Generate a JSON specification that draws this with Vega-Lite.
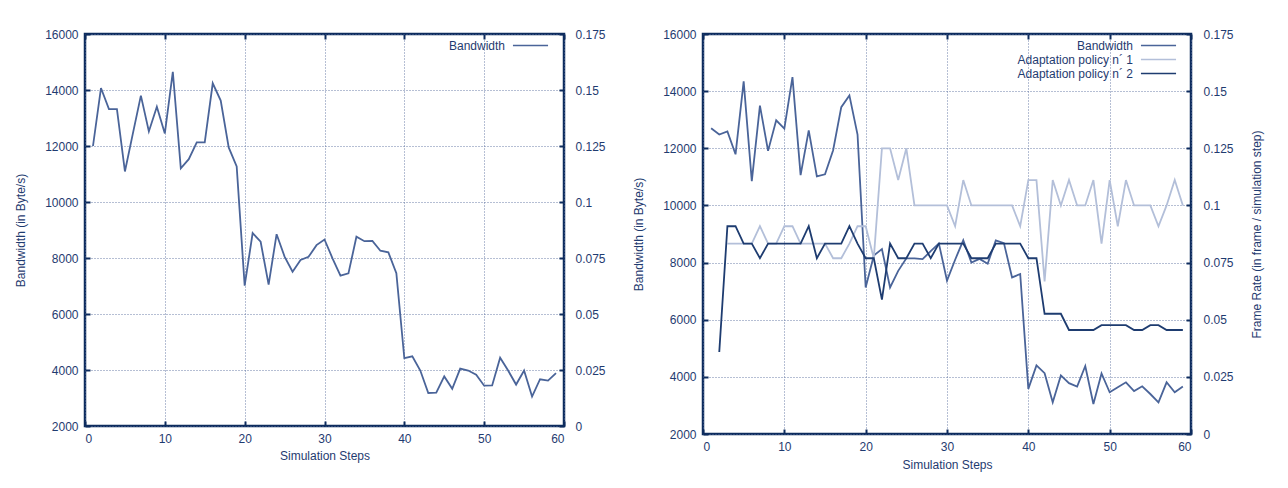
{
  "$schema": "https://vega.github.io/schema/vega-lite/v6.json",
  "background": "white",
  "padding": {"left": 13, "top": 26, "right": 5, "bottom": 5},
  "autosize": {"type": "pad"},
  "spacing": 24,
  "config": {
    "font": "Liberation Sans",
    "view": {"stroke": "#0e2c5e", "strokeWidth": 2.5},
    "axis": {
      "labelFont": "Liberation Sans", "labelFontSize": 12, "labelColor": "#1f3b70",
      "titleFont": "Liberation Sans", "titleFontSize": 12, "titleFontWeight": "normal", "titleColor": "#1f3b70",
      "domain": false, "tickColor": "#0e2c5e", "tickWidth": 2, "tickSize": -5, "labelPadding": 12,
      "gridColor": "#5d71a0", "gridDash": [1, 2], "gridWidth": 1, "gridOpacity": 0.9
    },
    "legend": {
      "labelFont": "Liberation Sans", "labelFontSize": 12, "labelColor": "#1f3b70",
      "symbolType": "M-2.7,0H2.7", "symbolSize": 169, "symbolStrokeWidth": 1.6,
      "labelAlign": "right", "labelOffset": -33, "rowPadding": 0, "padding": 0
    }
  },
  "datasets": {
    "left_bw": [
      {"step": 1, "series": "Bandwidth", "value": 12000},
      {"step": 2, "series": "Bandwidth", "value": 14070},
      {"step": 3, "series": "Bandwidth", "value": 13320},
      {"step": 4, "series": "Bandwidth", "value": 13320},
      {"step": 5, "series": "Bandwidth", "value": 11090},
      {"step": 6, "series": "Bandwidth", "value": 12450},
      {"step": 7, "series": "Bandwidth", "value": 13800},
      {"step": 8, "series": "Bandwidth", "value": 12520},
      {"step": 9, "series": "Bandwidth", "value": 13400},
      {"step": 10, "series": "Bandwidth", "value": 12450},
      {"step": 11, "series": "Bandwidth", "value": 14650},
      {"step": 12, "series": "Bandwidth", "value": 11200},
      {"step": 13, "series": "Bandwidth", "value": 11530},
      {"step": 14, "series": "Bandwidth", "value": 12130},
      {"step": 15, "series": "Bandwidth", "value": 12130},
      {"step": 16, "series": "Bandwidth", "value": 14240},
      {"step": 17, "series": "Bandwidth", "value": 13620},
      {"step": 18, "series": "Bandwidth", "value": 11950},
      {"step": 19, "series": "Bandwidth", "value": 11270},
      {"step": 20, "series": "Bandwidth", "value": 7010},
      {"step": 21, "series": "Bandwidth", "value": 8890},
      {"step": 22, "series": "Bandwidth", "value": 8580},
      {"step": 23, "series": "Bandwidth", "value": 7050},
      {"step": 24, "series": "Bandwidth", "value": 8850},
      {"step": 25, "series": "Bandwidth", "value": 8050},
      {"step": 26, "series": "Bandwidth", "value": 7510},
      {"step": 27, "series": "Bandwidth", "value": 7930},
      {"step": 28, "series": "Bandwidth", "value": 8040},
      {"step": 29, "series": "Bandwidth", "value": 8460},
      {"step": 30, "series": "Bandwidth", "value": 8660},
      {"step": 31, "series": "Bandwidth", "value": 7990},
      {"step": 32, "series": "Bandwidth", "value": 7370},
      {"step": 33, "series": "Bandwidth", "value": 7450},
      {"step": 34, "series": "Bandwidth", "value": 8760},
      {"step": 35, "series": "Bandwidth", "value": 8600},
      {"step": 36, "series": "Bandwidth", "value": 8610},
      {"step": 37, "series": "Bandwidth", "value": 8260},
      {"step": 38, "series": "Bandwidth", "value": 8200},
      {"step": 39, "series": "Bandwidth", "value": 7460},
      {"step": 40, "series": "Bandwidth", "value": 4420},
      {"step": 41, "series": "Bandwidth", "value": 4490},
      {"step": 42, "series": "Bandwidth", "value": 3980},
      {"step": 43, "series": "Bandwidth", "value": 3180},
      {"step": 44, "series": "Bandwidth", "value": 3190},
      {"step": 45, "series": "Bandwidth", "value": 3770},
      {"step": 46, "series": "Bandwidth", "value": 3330},
      {"step": 47, "series": "Bandwidth", "value": 4050},
      {"step": 48, "series": "Bandwidth", "value": 3980},
      {"step": 49, "series": "Bandwidth", "value": 3830},
      {"step": 50, "series": "Bandwidth", "value": 3440},
      {"step": 51, "series": "Bandwidth", "value": 3450},
      {"step": 52, "series": "Bandwidth", "value": 4440},
      {"step": 53, "series": "Bandwidth", "value": 3980},
      {"step": 54, "series": "Bandwidth", "value": 3480},
      {"step": 55, "series": "Bandwidth", "value": 3980},
      {"step": 56, "series": "Bandwidth", "value": 3050},
      {"step": 57, "series": "Bandwidth", "value": 3670},
      {"step": 58, "series": "Bandwidth", "value": 3620},
      {"step": 59, "series": "Bandwidth", "value": 3890}
    ],
    "right_bw": [
      {"step": 1, "series": "Bandwidth", "value": 12700},
      {"step": 2, "series": "Bandwidth", "value": 12480},
      {"step": 3, "series": "Bandwidth", "value": 12590},
      {"step": 4, "series": "Bandwidth", "value": 11790},
      {"step": 5, "series": "Bandwidth", "value": 14340},
      {"step": 6, "series": "Bandwidth", "value": 10850},
      {"step": 7, "series": "Bandwidth", "value": 13490},
      {"step": 8, "series": "Bandwidth", "value": 11910},
      {"step": 9, "series": "Bandwidth", "value": 12980},
      {"step": 10, "series": "Bandwidth", "value": 12690},
      {"step": 11, "series": "Bandwidth", "value": 14490},
      {"step": 12, "series": "Bandwidth", "value": 11060},
      {"step": 13, "series": "Bandwidth", "value": 12630},
      {"step": 14, "series": "Bandwidth", "value": 11020},
      {"step": 15, "series": "Bandwidth", "value": 11090},
      {"step": 16, "series": "Bandwidth", "value": 11930},
      {"step": 17, "series": "Bandwidth", "value": 13440},
      {"step": 18, "series": "Bandwidth", "value": 13850},
      {"step": 19, "series": "Bandwidth", "value": 12480},
      {"step": 20, "series": "Bandwidth", "value": 7130},
      {"step": 21, "series": "Bandwidth", "value": 8250},
      {"step": 22, "series": "Bandwidth", "value": 8470},
      {"step": 23, "series": "Bandwidth", "value": 7130},
      {"step": 24, "series": "Bandwidth", "value": 7710},
      {"step": 25, "series": "Bandwidth", "value": 8150},
      {"step": 26, "series": "Bandwidth", "value": 8150},
      {"step": 27, "series": "Bandwidth", "value": 8120},
      {"step": 28, "series": "Bandwidth", "value": 8400},
      {"step": 29, "series": "Bandwidth", "value": 8670},
      {"step": 30, "series": "Bandwidth", "value": 7370},
      {"step": 31, "series": "Bandwidth", "value": 8100},
      {"step": 32, "series": "Bandwidth", "value": 8780},
      {"step": 33, "series": "Bandwidth", "value": 8000},
      {"step": 34, "series": "Bandwidth", "value": 8130},
      {"step": 35, "series": "Bandwidth", "value": 7960},
      {"step": 36, "series": "Bandwidth", "value": 8780},
      {"step": 37, "series": "Bandwidth", "value": 8680},
      {"step": 38, "series": "Bandwidth", "value": 7480},
      {"step": 39, "series": "Bandwidth", "value": 7600},
      {"step": 40, "series": "Bandwidth", "value": 3580},
      {"step": 41, "series": "Bandwidth", "value": 4400},
      {"step": 42, "series": "Bandwidth", "value": 4130},
      {"step": 43, "series": "Bandwidth", "value": 3110},
      {"step": 44, "series": "Bandwidth", "value": 4050},
      {"step": 45, "series": "Bandwidth", "value": 3780},
      {"step": 46, "series": "Bandwidth", "value": 3660},
      {"step": 47, "series": "Bandwidth", "value": 4380},
      {"step": 48, "series": "Bandwidth", "value": 3050},
      {"step": 49, "series": "Bandwidth", "value": 4120},
      {"step": 50, "series": "Bandwidth", "value": 3460},
      {"step": 51, "series": "Bandwidth", "value": 3640},
      {"step": 52, "series": "Bandwidth", "value": 3810},
      {"step": 53, "series": "Bandwidth", "value": 3500},
      {"step": 54, "series": "Bandwidth", "value": 3670},
      {"step": 55, "series": "Bandwidth", "value": 3400},
      {"step": 56, "series": "Bandwidth", "value": 3110},
      {"step": 57, "series": "Bandwidth", "value": 3810},
      {"step": 58, "series": "Bandwidth", "value": 3460},
      {"step": 59, "series": "Bandwidth", "value": 3660}
    ],
    "policies": [
      {"step": 3, "series": "Adaptation policy n´ 1", "rate": 0.0833},
      {"step": 4, "series": "Adaptation policy n´ 1", "rate": 0.0833},
      {"step": 5, "series": "Adaptation policy n´ 1", "rate": 0.0833},
      {"step": 6, "series": "Adaptation policy n´ 1", "rate": 0.0833},
      {"step": 7, "series": "Adaptation policy n´ 1", "rate": 0.0909},
      {"step": 8, "series": "Adaptation policy n´ 1", "rate": 0.0833},
      {"step": 9, "series": "Adaptation policy n´ 1", "rate": 0.0833},
      {"step": 10, "series": "Adaptation policy n´ 1", "rate": 0.0909},
      {"step": 11, "series": "Adaptation policy n´ 1", "rate": 0.0909},
      {"step": 12, "series": "Adaptation policy n´ 1", "rate": 0.0833},
      {"step": 13, "series": "Adaptation policy n´ 1", "rate": 0.0833},
      {"step": 14, "series": "Adaptation policy n´ 1", "rate": 0.0833},
      {"step": 15, "series": "Adaptation policy n´ 1", "rate": 0.0833},
      {"step": 16, "series": "Adaptation policy n´ 1", "rate": 0.0769},
      {"step": 17, "series": "Adaptation policy n´ 1", "rate": 0.0769},
      {"step": 18, "series": "Adaptation policy n´ 1", "rate": 0.0833},
      {"step": 19, "series": "Adaptation policy n´ 1", "rate": 0.0909},
      {"step": 20, "series": "Adaptation policy n´ 1", "rate": 0.0909},
      {"step": 21, "series": "Adaptation policy n´ 1", "rate": 0.0769},
      {"step": 22, "series": "Adaptation policy n´ 1", "rate": 0.125},
      {"step": 23, "series": "Adaptation policy n´ 1", "rate": 0.125},
      {"step": 24, "series": "Adaptation policy n´ 1", "rate": 0.1111},
      {"step": 25, "series": "Adaptation policy n´ 1", "rate": 0.125},
      {"step": 26, "series": "Adaptation policy n´ 1", "rate": 0.1},
      {"step": 27, "series": "Adaptation policy n´ 1", "rate": 0.1},
      {"step": 28, "series": "Adaptation policy n´ 1", "rate": 0.1},
      {"step": 29, "series": "Adaptation policy n´ 1", "rate": 0.1},
      {"step": 30, "series": "Adaptation policy n´ 1", "rate": 0.1},
      {"step": 31, "series": "Adaptation policy n´ 1", "rate": 0.0909},
      {"step": 32, "series": "Adaptation policy n´ 1", "rate": 0.1111},
      {"step": 33, "series": "Adaptation policy n´ 1", "rate": 0.1},
      {"step": 34, "series": "Adaptation policy n´ 1", "rate": 0.1},
      {"step": 35, "series": "Adaptation policy n´ 1", "rate": 0.1},
      {"step": 36, "series": "Adaptation policy n´ 1", "rate": 0.1},
      {"step": 37, "series": "Adaptation policy n´ 1", "rate": 0.1},
      {"step": 38, "series": "Adaptation policy n´ 1", "rate": 0.1},
      {"step": 39, "series": "Adaptation policy n´ 1", "rate": 0.0909},
      {"step": 40, "series": "Adaptation policy n´ 1", "rate": 0.1111},
      {"step": 41, "series": "Adaptation policy n´ 1", "rate": 0.1111},
      {"step": 42, "series": "Adaptation policy n´ 1", "rate": 0.0667},
      {"step": 43, "series": "Adaptation policy n´ 1", "rate": 0.1111},
      {"step": 44, "series": "Adaptation policy n´ 1", "rate": 0.1},
      {"step": 45, "series": "Adaptation policy n´ 1", "rate": 0.1111},
      {"step": 46, "series": "Adaptation policy n´ 1", "rate": 0.1},
      {"step": 47, "series": "Adaptation policy n´ 1", "rate": 0.1},
      {"step": 48, "series": "Adaptation policy n´ 1", "rate": 0.1111},
      {"step": 49, "series": "Adaptation policy n´ 1", "rate": 0.0833},
      {"step": 50, "series": "Adaptation policy n´ 1", "rate": 0.1111},
      {"step": 51, "series": "Adaptation policy n´ 1", "rate": 0.0909},
      {"step": 52, "series": "Adaptation policy n´ 1", "rate": 0.1111},
      {"step": 53, "series": "Adaptation policy n´ 1", "rate": 0.1},
      {"step": 54, "series": "Adaptation policy n´ 1", "rate": 0.1},
      {"step": 55, "series": "Adaptation policy n´ 1", "rate": 0.1},
      {"step": 56, "series": "Adaptation policy n´ 1", "rate": 0.0909},
      {"step": 57, "series": "Adaptation policy n´ 1", "rate": 0.1},
      {"step": 58, "series": "Adaptation policy n´ 1", "rate": 0.1111},
      {"step": 59, "series": "Adaptation policy n´ 1", "rate": 0.1},
      {"step": 2, "series": "Adaptation policy n´ 2", "rate": 0.0359},
      {"step": 3, "series": "Adaptation policy n´ 2", "rate": 0.0909},
      {"step": 4, "series": "Adaptation policy n´ 2", "rate": 0.0909},
      {"step": 5, "series": "Adaptation policy n´ 2", "rate": 0.0833},
      {"step": 6, "series": "Adaptation policy n´ 2", "rate": 0.0833},
      {"step": 7, "series": "Adaptation policy n´ 2", "rate": 0.0769},
      {"step": 8, "series": "Adaptation policy n´ 2", "rate": 0.0833},
      {"step": 9, "series": "Adaptation policy n´ 2", "rate": 0.0833},
      {"step": 10, "series": "Adaptation policy n´ 2", "rate": 0.0833},
      {"step": 11, "series": "Adaptation policy n´ 2", "rate": 0.0833},
      {"step": 12, "series": "Adaptation policy n´ 2", "rate": 0.0833},
      {"step": 13, "series": "Adaptation policy n´ 2", "rate": 0.0909},
      {"step": 14, "series": "Adaptation policy n´ 2", "rate": 0.0769},
      {"step": 15, "series": "Adaptation policy n´ 2", "rate": 0.0833},
      {"step": 16, "series": "Adaptation policy n´ 2", "rate": 0.0833},
      {"step": 17, "series": "Adaptation policy n´ 2", "rate": 0.0833},
      {"step": 18, "series": "Adaptation policy n´ 2", "rate": 0.0909},
      {"step": 19, "series": "Adaptation policy n´ 2", "rate": 0.0833},
      {"step": 20, "series": "Adaptation policy n´ 2", "rate": 0.0769},
      {"step": 21, "series": "Adaptation policy n´ 2", "rate": 0.0769},
      {"step": 22, "series": "Adaptation policy n´ 2", "rate": 0.0588},
      {"step": 23, "series": "Adaptation policy n´ 2", "rate": 0.0833},
      {"step": 24, "series": "Adaptation policy n´ 2", "rate": 0.0769},
      {"step": 25, "series": "Adaptation policy n´ 2", "rate": 0.0769},
      {"step": 26, "series": "Adaptation policy n´ 2", "rate": 0.0833},
      {"step": 27, "series": "Adaptation policy n´ 2", "rate": 0.0833},
      {"step": 28, "series": "Adaptation policy n´ 2", "rate": 0.0769},
      {"step": 29, "series": "Adaptation policy n´ 2", "rate": 0.0833},
      {"step": 30, "series": "Adaptation policy n´ 2", "rate": 0.0833},
      {"step": 31, "series": "Adaptation policy n´ 2", "rate": 0.0833},
      {"step": 32, "series": "Adaptation policy n´ 2", "rate": 0.0833},
      {"step": 33, "series": "Adaptation policy n´ 2", "rate": 0.0769},
      {"step": 34, "series": "Adaptation policy n´ 2", "rate": 0.0769},
      {"step": 35, "series": "Adaptation policy n´ 2", "rate": 0.0769},
      {"step": 36, "series": "Adaptation policy n´ 2", "rate": 0.0833},
      {"step": 37, "series": "Adaptation policy n´ 2", "rate": 0.0833},
      {"step": 38, "series": "Adaptation policy n´ 2", "rate": 0.0833},
      {"step": 39, "series": "Adaptation policy n´ 2", "rate": 0.0833},
      {"step": 40, "series": "Adaptation policy n´ 2", "rate": 0.0769},
      {"step": 41, "series": "Adaptation policy n´ 2", "rate": 0.0769},
      {"step": 42, "series": "Adaptation policy n´ 2", "rate": 0.0526},
      {"step": 43, "series": "Adaptation policy n´ 2", "rate": 0.0526},
      {"step": 44, "series": "Adaptation policy n´ 2", "rate": 0.0526},
      {"step": 45, "series": "Adaptation policy n´ 2", "rate": 0.0455},
      {"step": 46, "series": "Adaptation policy n´ 2", "rate": 0.0455},
      {"step": 47, "series": "Adaptation policy n´ 2", "rate": 0.0455},
      {"step": 48, "series": "Adaptation policy n´ 2", "rate": 0.0455},
      {"step": 49, "series": "Adaptation policy n´ 2", "rate": 0.0476},
      {"step": 50, "series": "Adaptation policy n´ 2", "rate": 0.0476},
      {"step": 51, "series": "Adaptation policy n´ 2", "rate": 0.0476},
      {"step": 52, "series": "Adaptation policy n´ 2", "rate": 0.0476},
      {"step": 53, "series": "Adaptation policy n´ 2", "rate": 0.0455},
      {"step": 54, "series": "Adaptation policy n´ 2", "rate": 0.0455},
      {"step": 55, "series": "Adaptation policy n´ 2", "rate": 0.0476},
      {"step": 56, "series": "Adaptation policy n´ 2", "rate": 0.0476},
      {"step": 57, "series": "Adaptation policy n´ 2", "rate": 0.0455},
      {"step": 58, "series": "Adaptation policy n´ 2", "rate": 0.0455},
      {"step": 59, "series": "Adaptation policy n´ 2", "rate": 0.0455}
    ]
  },
  "hconcat": [
    {
      "width": 479,
      "height": 392,
      "layer": [
        {
          "data": {"name": "left_bw"},
          "mark": {"type": "line", "strokeWidth": 1.8},
          "encoding": {
            "x": {"field": "step", "type": "quantitative", "scale": {"domain": [0, 60], "nice": false},
              "axis": {"orient": "bottom", "values": [0, 10, 20, 30, 40, 50, 60], "format": "d", "title": "Simulation Steps", "grid": true, "titlePadding": 6}},
            "y": {"field": "value", "type": "quantitative", "scale": {"domain": [2000, 16000], "nice": false},
              "axis": {"orient": "left", "values": [2000, 4000, 6000, 8000, 10000, 12000, 14000, 16000], "format": "d", "title": "Bandwidth (in Byte/s)", "grid": true, "titlePadding": 17}},
            "color": {"field": "series", "type": "nominal",
              "scale": {"domain": ["Bandwidth"], "range": ["#4a6499"]},
              "legend": {"title": null, "orient": "none", "legendX": 438, "legendY": 4}}
          }
        },
        {
          "data": {"values": [{"step": 0, "rate": 0}, {"step": 60, "rate": 0.175}]},
          "mark": {"type": "point", "opacity": 0},
          "encoding": {
            "x": {"field": "step", "type": "quantitative",
              "axis": {"orient": "top", "values": [0, 10, 20, 30, 40, 50, 60], "labels": false, "title": null, "grid": false}},
            "y": {"field": "rate", "type": "quantitative", "scale": {"domain": [0, 0.175], "nice": false},
              "axis": {"orient": "right", "values": [0, 0.025, 0.05, 0.075, 0.1, 0.125, 0.15, 0.175], "format": ".3~f", "title": null, "grid": false, "labelPadding": 16}}
          }
        }
      ],
      "resolve": {"scale": {"y": "independent"}, "axis": {"x": "independent", "y": "independent"}}
    },
    {
      "width": 488,
      "height": 400,
      "layer": [
        {
          "data": {"name": "right_bw"},
          "mark": {"type": "line", "strokeWidth": 1.8},
          "encoding": {
            "x": {"field": "step", "type": "quantitative", "scale": {"domain": [0, 60], "nice": false},
              "axis": {"orient": "bottom", "values": [0, 10, 20, 30, 40, 50, 60], "format": "d", "title": "Simulation Steps", "grid": true, "titlePadding": 7}},
            "y": {"field": "value", "type": "quantitative", "scale": {"domain": [2000, 16000], "nice": false},
              "axis": {"orient": "left", "values": [2000, 4000, 6000, 8000, 10000, 12000, 14000, 16000], "format": "d", "title": "Bandwidth (in Byte/s)", "grid": true, "titlePadding": 17}},
            "color": {"field": "series", "type": "nominal",
              "scale": {"domain": ["Bandwidth", "Adaptation policy n´ 1", "Adaptation policy n´ 2"], "range": ["#4a6499", "#b3bfd9", "#1e3c70"]},
              "legend": {"title": null, "orient": "none", "legendX": 448, "legendY": 4}}
          }
        },
        {
          "data": {"name": "policies"},
          "mark": {"type": "line", "strokeWidth": 1.8},
          "encoding": {
            "x": {"field": "step", "type": "quantitative",
              "axis": {"orient": "top", "values": [0, 10, 20, 30, 40, 50, 60], "labels": false, "title": null, "grid": false}},
            "y": {"field": "rate", "type": "quantitative", "scale": {"domain": [0, 0.175], "nice": false},
              "axis": {"orient": "right", "values": [0, 0.025, 0.05, 0.075, 0.1, 0.125, 0.15, 0.175], "format": ".3~f", "title": "Frame Rate (in frame / simulation step)", "titleAngle": 270, "grid": false, "labelPadding": 17, "titlePadding": 30}},
            "color": {"field": "series", "type": "nominal",
              "scale": {"domain": ["Bandwidth", "Adaptation policy n´ 1", "Adaptation policy n´ 2"], "range": ["#4a6499", "#b3bfd9", "#1e3c70"]}}
          }
        }
      ],
      "resolve": {"scale": {"y": "independent"}, "axis": {"x": "independent", "y": "independent"}}
    }
  ],
  "resolve": {"scale": {"color": "independent"}, "legend": {"color": "independent"}}
}
